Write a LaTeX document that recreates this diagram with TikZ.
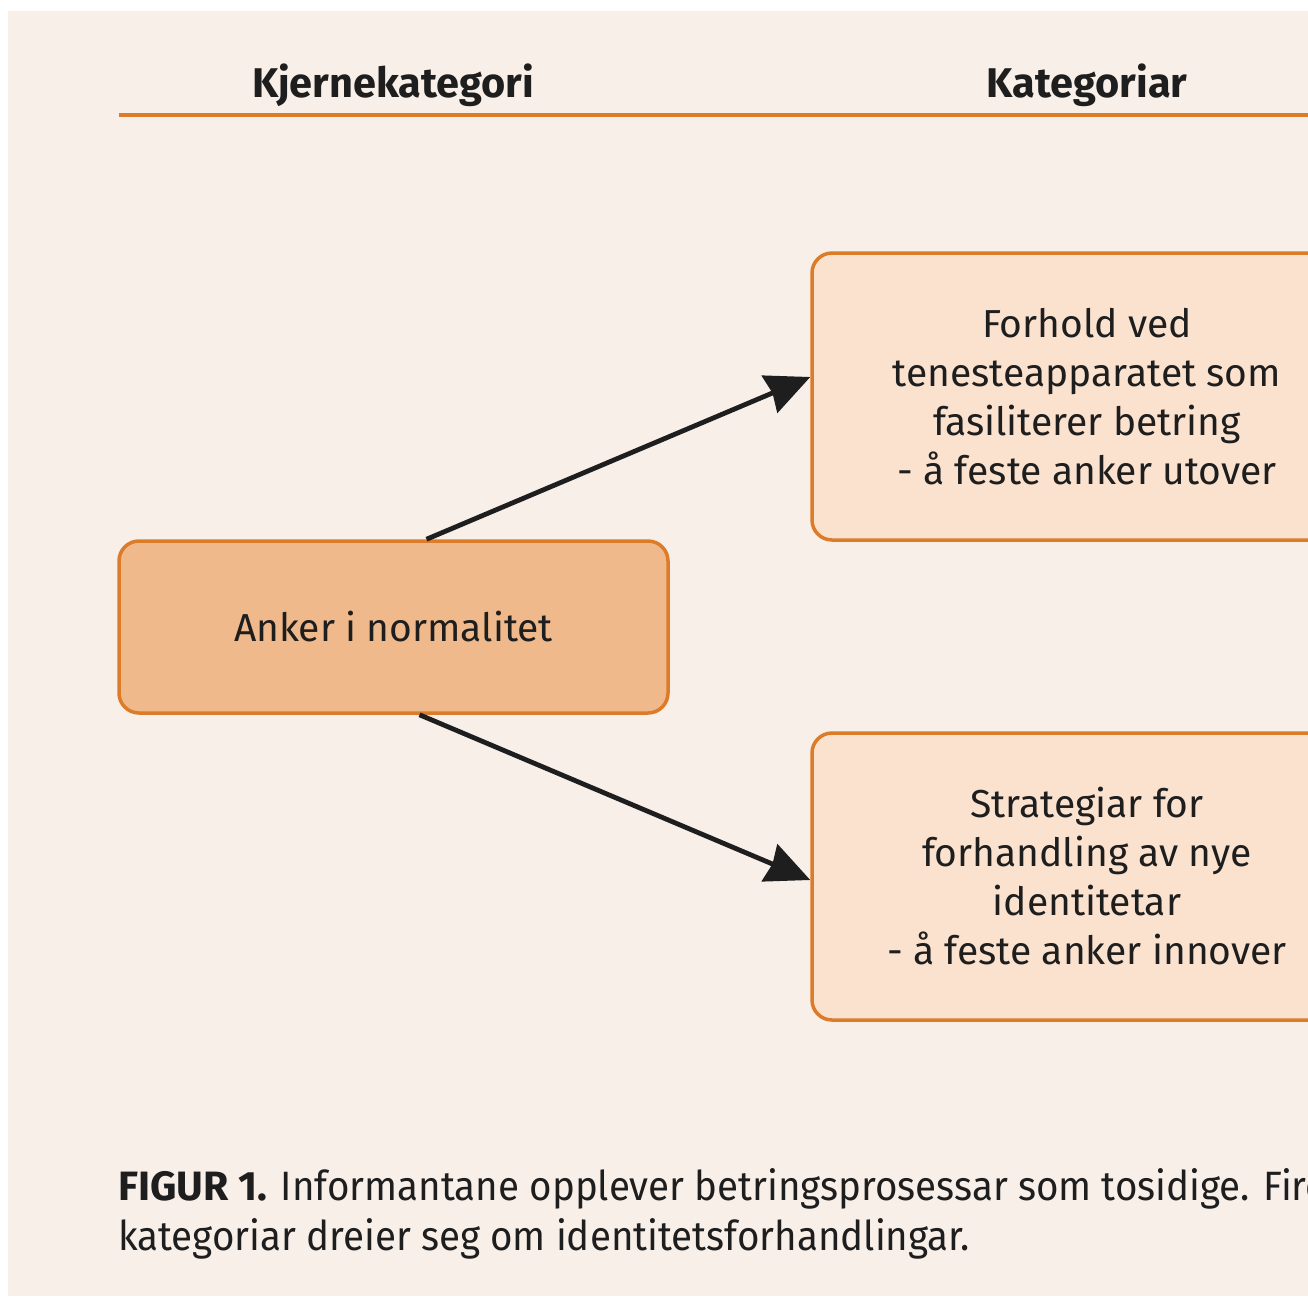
\documentclass[tikz,border=0pt]{standalone}
\usepackage{fontspec}
\setmainfont{Fira Sans}
\newfontfamily\capfont[FakeStretch=0.94]{Fira Sans}
\newfontfamily\capbold{Fira Sans}
\usetikzlibrary{arrows.meta}
\definecolor{bg}{RGB}{248,239,233}
\definecolor{orng}{RGB}{220,124,42}
\definecolor{lightbox}{RGB}{250,226,207}
\definecolor{darkbox}{RGB}{240,185,139}
\definecolor{ink}{RGB}{30,30,30}
\begin{document}
\begin{tikzpicture}[x=1pt,y=-1pt,
  boxbase/.style={draw=orng, line width=3.5pt, rounded corners=20pt, align=center,
    text=ink, inner sep=0pt, font=\fontsize{39}{49}\selectfont},
  catbox/.style={boxbase, fill=lightbox, minimum width=550pt, minimum height=287pt},
  corebox/.style={boxbase, fill=darkbox, minimum width=549pt, minimum height=172pt},
  hdr/.style={anchor=base, inner sep=0pt, text=ink, font=\fontsize{41.5}{44}\selectfont\bfseries},
  captext/.style={anchor=base west, inner sep=0pt, text=ink, font=\capfont\fontsize{41}{44}\selectfont},
  conn/.style={-{Stealth[length=44pt,width=40pt,inset=3pt]}, line width=4.8pt, draw=ink}]
\useasboundingbox (0,0) rectangle (1308,1296);
\clip (0,0) rectangle (1308,1296);
\fill[white] (0,0) rectangle (1308,1296);
\fill[bg] (8,11) rectangle (1308,1296);
% header
\coordinate (hlA) at (119,115);
\coordinate (hlB) at (1310,115);
\draw[orng, line width=4pt] (hlA) -- (hlB);
\node[hdr] (h1) at (393,97) {Kjernekategori};
\node[hdr] (h2) at (1087,97) {Kategoriar};
% boxes
\node[corebox] (core) at (393.5,627) {Anker i normalitet};
\node[catbox] (top) at (1087,396.5) {Forhold ved\\tenesteapparatet som\\fasiliterer betring\\- å feste anker utover};
\node[catbox] (bot) at (1087,876.5) {Strategiar for\\forhandling av nye\\identitetar\\- å feste anker innover};
% connectors
\draw[conn] ([xshift=33pt]core.north) -- ([yshift=19.5pt]top.west);
\draw[conn] ([xshift=26pt]core.south) -- ([yshift=-3.5pt]bot.west);
% caption
\node[captext] (cap1) at (118,1200) {{\capbold\bfseries FIGUR 1.} Informantane opplever betringsprosessar som tosidige. Fire};
\node[captext] (cap2) at (118,1250) {kategoriar dreier seg om identitetsforhandlingar.};
\end{tikzpicture}
\end{document}
